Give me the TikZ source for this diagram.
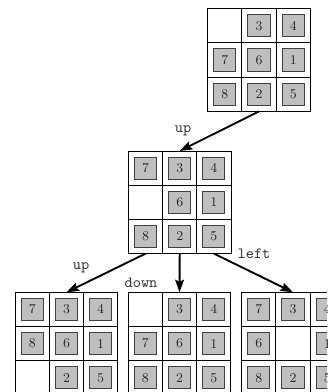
\documentclass[tikz,border=0pt]{standalone}
\usepackage{fontspec}
\usetikzlibrary{arrows.meta}
\tikzset{
  board/.style={draw=black, line width=0.6pt, minimum size=65.7pt, inner sep=0pt, outer sep=0pt},
  gridline/.style={draw=black, line width=0.6pt},
  tile/.style={draw=black!75, fill=black!25, line width=0.65pt, minimum size=14.1pt, inner sep=0pt,
    font=\fontsize{8.6}{10}\selectfont, text=black!85},
  arr/.style={line width=1.2pt, -{Stealth[length=8pt,width=5.6pt,inset=1.2pt]}},
  movelabel/.style={font=\ttfamily\fontsize{10}{12}\selectfont, text=black!80, anchor=base, inner sep=0pt}
}
\newcommand\puzzleboard[4]{%
  \node[board] (#1) at (#2,#3) {};
  \begin{scope}[shift={(#2,#3)}]
    \draw[gridline] (-17.1,-51.3) -- (-17.1,51.3);
    \draw[gridline] (17.1,-51.3) -- (17.1,51.3);
    \draw[gridline] (-51.3,-17.1) -- (51.3,-17.1);
    \draw[gridline] (-51.3,17.1) -- (51.3,17.1);
    \foreach \v [count=\i from 0] in {#4} {
      \pgfmathtruncatemacro\cc{mod(\i,3)}
      \pgfmathtruncatemacro\rr{int(\i/3)}
      \ifnum\v>0
        \node[tile] (#1-\i) at ({(\cc-1)*34.2},{(\rr-1)*34.2}) {\v};
      \fi
    }
  \end{scope}
}
\begin{document}
\begin{tikzpicture}[x=0.64pt,y=-0.64pt]
  \useasboundingbox (0,0) rectangle (327,392);
  \clip (0,0) rectangle (327,392);
  \puzzleboard{top}{259}{60}{0,3,4,7,6,1,8,2,5}
  \puzzleboard{mid}{179.7}{202.3}{7,3,4,0,6,1,8,2,5}
  \puzzleboard{bl}{66.5}{343.6}{7,3,4,8,6,1,0,2,5}
  \puzzleboard{bm}{179.5}{343.6}{0,3,4,7,6,1,8,2,5}
  \puzzleboard{br}{293}{343.6}{7,3,4,6,0,1,8,2,5}
  \draw[arr] (top.south) -- (mid.north);
  \draw[arr] ([xshift=-21.9pt]mid.south) -- (bl.north);
  \draw[arr] (mid.south) -- (bm.north);
  \draw[arr] ([xshift=21.9pt]mid.south) -- (br.north);
  \node[movelabel] (l1) at (183,133) {up};
  \node[movelabel] (l2) at (81,269.3) {up};
  \node[movelabel] (l3) at (141,287.3) {down};
  \node[movelabel] (l4) at (254,258) {left};
\end{tikzpicture}
\end{document}
